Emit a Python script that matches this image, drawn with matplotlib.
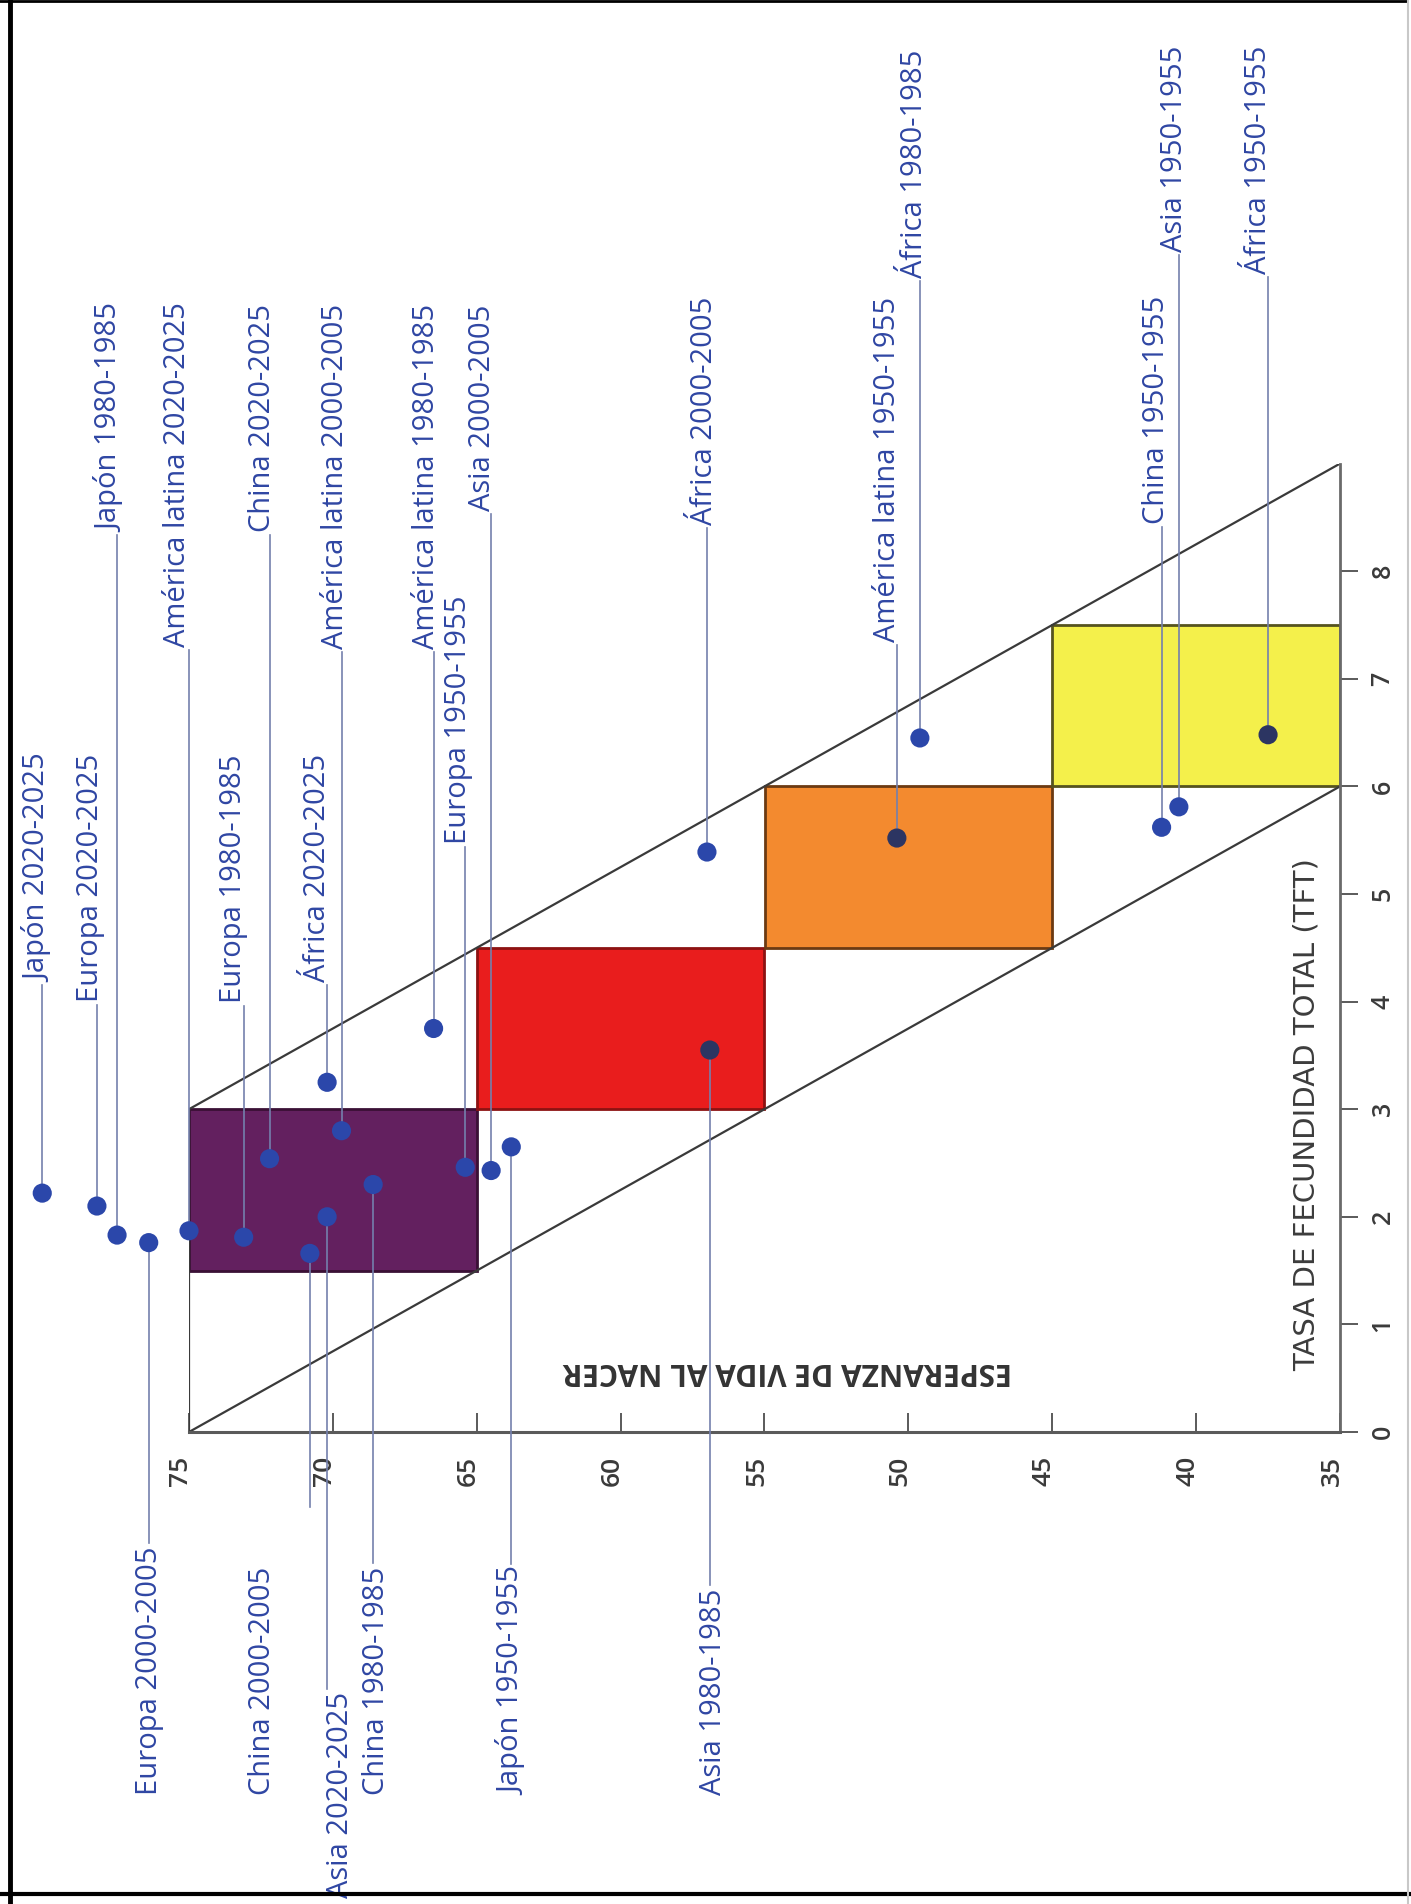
import matplotlib
matplotlib.use("Agg")
import matplotlib.pyplot as plt
from matplotlib.patches import Rectangle
from matplotlib.lines import Line2D
from matplotlib.transforms import ScaledTranslation

plt.rcParams['font.family'] = ['Open Sans', 'DejaVu Sans']

# ---------------- data ----------------
etiquetas = [
    "Japón 2020-2025", "Europa 2020-2025", "Japón 1980-1985", "Europa 2000-2005",
    "América latina 2020-2025", "Europa 1980-1985", "China 2020-2025", "China 2000-2005",
    "Asia 2020-2025", "África 2020-2025", "América latina 2000-2005", "China 1980-1985",
    "América latina 1980-1985", "Europa 1950-1955", "Asia 2000-2005", "Japón 1950-1955",
    "Asia 1980-1985", "África 2000-2005", "América latina 1950-1955", "África 1980-1985",
    "China 1950-1955", "Asia 1950-1955", "África 1950-1955",
]
# esperanza de vida al nacer (años)
esperanza_vida = [80.1, 78.2, 77.5, 76.4, 75.0, 73.1, 72.2, 70.8, 70.2, 70.2, 69.7, 68.6,
                  66.5, 65.4, 64.5, 63.8, 56.9, 57.0, 50.4, 49.6, 41.2, 40.6, 37.5]
# tasa de fecundidad total
tft = [2.22, 2.10, 1.83, 1.76, 1.87, 1.81, 2.54, 1.66, 2.00, 3.25, 2.80, 2.30,
       3.75, 2.46, 2.43, 2.65, 3.55, 5.39, 5.52, 6.45, 5.62, 5.81, 6.48]

# etapas de la transición: rangos de esperanza de vida y de TFT
etapa_ev = [(65, 75), (55, 65), (45, 55), (35, 45)]
etapa_tft = [(1.5, 3.0), (3.0, 4.5), (4.5, 6.0), (6.0, 7.5)]

# franja de la transición (esperanza de vida, TFT)
franja_inf = [(75, 0), (35, 6)]
franja_sup = [(75, 3), (35, 9)]

ev_ticks = [75, 70, 65, 60, 55, 50, 45, 40, 35]
tft_ticks = [0, 1, 2, 3, 4, 5, 6, 7, 8]

# ---------------- label layout ----------------
lado = ['top', 'top', 'top', 'bottom', 'top', 'top', 'top', 'bottom', 'bottom', 'top', 'top',
        'bottom', 'top', 'top', 'top', 'bottom', 'bottom', 'top', 'top', 'top', 'top', 'top', 'top']
texto_x = [80.25, 78.44, 77.75, 76.36, 75.40, 73.47, 72.45, 72.46, 69.72, 70.55, 69.90, 68.47,
           66.76, 65.62, 64.80, 63.78, 56.76, 57.07, 50.71, 49.77, 41.37, 40.74, 37.82]
texto_y = [6.30, 6.30, 10.48, -3.37, 10.50, 6.30, 10.48, -3.37, -4.33, 6.30, 10.48, -3.37,
           10.48, 7.77, 10.48, -3.37, -3.37, 10.55, 10.55, 12.85, 10.56, 12.88, 12.88]
# leader that stops short of its label
corte_guia = {"China 2000-2005": -0.70}

colores_etapa = ['#63205f', '#e91d1d', '#f38a2f', '#f4f04b']
bordes_etapa = ['#3a1035', '#8c1212', '#6b3a12', '#55531f']
azul_texto = '#2f46a3'
azul_punto = '#2b47aa'
azul_oscuro = '#2c3562'
gris_guia = '#7480ad'

W, H = 1411, 1904
fig = plt.figure(figsize=(W / 100, H / 100), dpi=100)
fig.patch.set_facecolor('white')

x_izq, x_der = 189, 1340        # pixel columns of 75 and 35 years
y_eje, px_unidad = 1432, 107.6  # pixel row of TFR 0 and pixels per TFR unit
y_sup = y_eje - 9 * px_unidad
ax = fig.add_axes([x_izq / W, 1 - y_eje / H, (x_der - x_izq) / W, (y_eje - y_sup) / H])
ax.set_xlim(75, 35)
ax.set_ylim(0, 9)
ax.set_facecolor('none')

# stage boxes
for (e0, e1), (t0, t1), fc, ec in zip(etapa_ev, etapa_tft, colores_etapa, bordes_etapa):
    ax.add_patch(Rectangle((e0, t0), e1 - e0, t1 - t0, facecolor=fc, edgecolor=ec,
                           linewidth=2.0, zorder=1))

# band of the transition
for seg in (franja_inf, franja_sup):
    ax.plot([seg[0][0], seg[1][0]], [seg[0][1], seg[1][1]], color='#3a3a3a', lw=1.6, zorder=2)
ax.plot([franja_inf[0][0], franja_sup[0][0]], [franja_inf[0][1], franja_sup[0][1]],
        color='#3a3a3a', lw=1.6, zorder=2)

# axes frame
for s in ('left', 'top'):
    ax.spines[s].set_visible(False)
ax.spines['bottom'].set_color('#5a5a5a')
ax.spines['bottom'].set_linewidth(2.2)
ax.spines['right'].set_color('#6a6a6a')
ax.spines['right'].set_linewidth(2.0)
ax.spines['right'].set_zorder(2)

ax.set_xticks(ev_ticks)
ax.set_xticklabels([str(v) for v in ev_ticks], rotation=90, fontsize=19,
                   fontweight='semibold', color='#3a3a3a')
ax.tick_params(axis='x', direction='in', length=14, width=1.4, color='#5a5a5a', pad=17)
for lab in ax.get_xticklabels():
    lab.set_transform(lab.get_transform() + ScaledTranslation(-0.08, 0, fig.dpi_scale_trans))

ax.yaxis.tick_right()
ax.set_yticks(tft_ticks)
ax.set_yticklabels([str(v) for v in tft_ticks], rotation=90, fontsize=18,
                   fontweight='semibold', color='#3a3a3a', va='center')
ax.tick_params(axis='y', direction='out', length=13, width=1.4, color='#5a5a5a', pad=9)

# axis titles
fig.text(1307 / W, 1 - 1115 / H, 'TASA DE FECUNDIDAD TOTAL (TFT)', rotation=90,
         ha='center', va='center', fontsize=21, color='#3c3c3c', family='DejaVu Sans')
fig.text(787 / W, 1 - 1371 / H, 'ESPERANZA DE VIDA AL NACER', rotation=180,
         ha='center', va='center', fontsize=21.5, fontweight='bold', color='#333333')

# points (darker where they sit on the warm-coloured stages)
colores_punto = []
for ev, t in zip(esperanza_vida, tft):
    c = azul_punto
    for (e0, e1), (t0, t1) in zip(etapa_ev[1:], etapa_tft[1:]):
        if e0 <= ev <= e1 and t0 <= t <= t1:
            c = azul_oscuro
    colores_punto.append(c)
ax.scatter(esperanza_vida, tft, s=190, c=colores_punto, edgecolors='none', zorder=5,
           clip_on=False)

# labels
textos = []
for nombre, lx, ly, pos in zip(etiquetas, texto_x, texto_y, lado):
    t = ax.text(lx, ly, nombre, rotation=90, rotation_mode='anchor',
                ha='right' if pos == 'top' else 'left', va='center',
                fontsize=21, color=azul_texto, clip_on=False, zorder=6)
    textos.append(t)

# leader lines from each point to its label
fig.canvas.draw()
renderer = fig.canvas.get_renderer()
inv = ax.transData.inverted()
hueco = 3 / px_unidad
for nombre, ev, t, pos, txt in zip(etiquetas, esperanza_vida, tft, lado, textos):
    bb = txt.get_window_extent(renderer)
    (_, y0), (_, y1) = inv.transform([(bb.x0, bb.y0), (bb.x1, bb.y1)])
    lo, hi = min(y0, y1), max(y0, y1)
    if pos == 'top':
        destino = lo - hueco
    else:
        destino = corte_guia.get(nombre, hi + hueco)
    ax.plot([ev, ev], [t, destino], color=gris_guia, lw=1.2, zorder=3, clip_on=False)

# page border
borde = dict(transform=fig.transFigure, zorder=10)
fig.add_artist(Line2D([10 / W, 10 / W], [0, 1], color='black', lw=3.5, **borde))
fig.add_artist(Line2D([0, 1406 / W], [1 - 1 / H, 1 - 1 / H], color='black', lw=2.0, **borde))
fig.add_artist(Line2D([0, 1], [1 - 1894 / H, 1 - 1894 / H], color='black', lw=3.0, **borde))
fig.add_artist(Line2D([1408 / W, 1408 / W], [0, 1], color='#c8c8c8', lw=1.5, **borde))

fig.savefig('out.png', dpi=100, facecolor='white')
